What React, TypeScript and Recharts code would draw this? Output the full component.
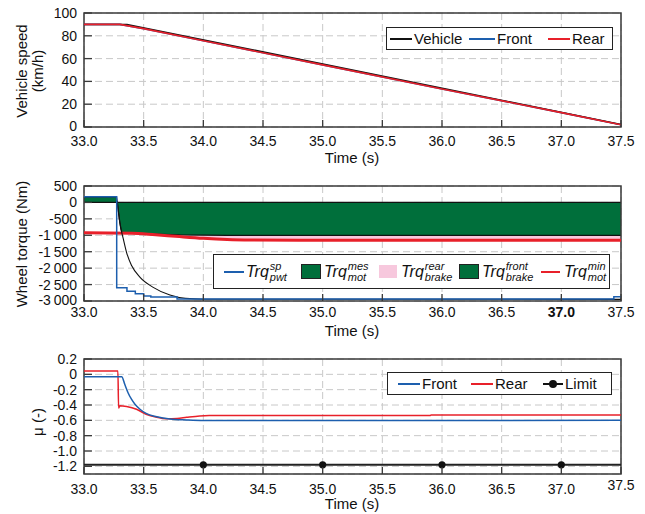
import React from "react";
import {
  ComposedChart,
  Line,
  Area,
  XAxis,
  YAxis,
  CartesianGrid,
  ReferenceArea,
} from "recharts";

const FONT = "'Liberation Sans', Arial, Helvetica, sans-serif";
const AXIS = "#3a3a3a";
const GRID = "#c8c8c8";
const BLUE = "#1d5fae";
const RED = "#e8202a";
const GREEN = "#006f3b";
const PINK = "#f7c8dd";
const TICK_FONT = 14;

// shared time axis
const timeTicks = [33, 33.5, 34, 34.5, 35, 35.5, 36, 36.5, 37, 37.5];
const speedTicks = [0, 20, 40, 60, 80, 100];
const torqueTicks = [500, 0, -500, -1000, -1500, -2000, -2500, -3000];
const muTicks = [0.2, 0, -0.2, -0.4, -0.6, -0.8, -1.0, -1.2];

// vehicle / wheel speeds (km/h)
const vehicleSpeed = [
  { t: 33.0, v: 90 },
  { t: 33.36, v: 90 },
  { t: 37.5, v: 2.2 },
];
const frontSpeed = [
  { t: 33.0, v: 90 },
  { t: 33.3, v: 90 },
  { t: 33.5, v: 86.3 },
  { t: 34.0, v: 75.6 },
  { t: 35.0, v: 54.5 },
  { t: 36.0, v: 33.4 },
  { t: 37.0, v: 12.6 },
  { t: 37.5, v: 2 },
];
const rearSpeed = [
  { t: 33.0, v: 90 },
  { t: 33.3, v: 90 },
  { t: 33.5, v: 86.3 },
  { t: 34.0, v: 75.6 },
  { t: 35.0, v: 54.5 },
  { t: 36.0, v: 33.4 },
  { t: 37.0, v: 12.6 },
  { t: 37.5, v: 2 },
];

// wheel torques (Nm)
const pwtSetpoint = [
  { t: 33.0, v: 170 },
  { t: 33.274, v: -2600 },
  { t: 33.36, v: -2700 },
  { t: 33.43, v: -2780 },
  { t: 33.5, v: -2850 },
  { t: 33.56, v: -2880 },
  { t: 33.78, v: -2940 },
  { t: 37.44, v: -2870 },
  { t: 37.5, v: -2870 },
];
const motorMes = [
  { t: 33.0, v: [0, 170] },
  { t: 33.272, v: [0, 170] },
  { t: 33.279, v: [0, 0] },
  { t: 33.3, v: [-600, 0] },
  { t: 33.31, v: [-820, 0] },
  { t: 33.32, v: [-930, 0] },
  { t: 33.5, v: [-955, 0] },
  { t: 33.8, v: [-990, 0] },
  { t: 34.2, v: [-1000, 0] },
  { t: 37.5, v: [-1000, 0] },
];
const rearBrake = [
  { t: 33.35, v: [-935, -930] },
  { t: 33.6, v: [-980, -960] },
  { t: 34.0, v: [-1085, -995] },
  { t: 34.4, v: [-1135, -1000] },
  { t: 37.5, v: [-1135, -1000] },
];
const motorTrq = [
  { t: 33.279, v: 0 },
  { t: 33.3, v: -616 },
  { t: 33.33, v: -1120 },
  { t: 33.357, v: -1525 },
  { t: 33.4, v: -1930 },
  { t: 33.47, v: -2280 },
  { t: 33.58, v: -2585 },
  { t: 33.72, v: -2820 },
  { t: 33.85, v: -2920 },
  { t: 34.0, v: -2945 },
  { t: 37.5, v: -2950 },
];
const motorMin = [
  { t: 33.0, v: -925 },
  { t: 33.4, v: -935 },
  { t: 33.6, v: -985 },
  { t: 33.8, v: -1040 },
  { t: 34.0, v: -1090 },
  { t: 34.2, v: -1125 },
  { t: 34.4, v: -1140 },
  { t: 34.8, v: -1148 },
  { t: 37.5, v: -1148 },
];

// friction utilisation (-)
const muFront = [
  { t: 33.0, v: -0.03 },
  { t: 33.316, v: -0.03 },
  { t: 33.343, v: -0.136 },
  { t: 33.37, v: -0.243 },
  { t: 33.399, v: -0.328 },
  { t: 33.427, v: -0.39 },
  { t: 33.469, v: -0.455 },
  { t: 33.52, v: -0.51 },
  { t: 33.61, v: -0.553 },
  { t: 33.72, v: -0.583 },
  { t: 33.86, v: -0.596 },
  { t: 34.0, v: -0.603 },
  { t: 37.5, v: -0.6 },
];
const muRear = [
  { t: 33.0, v: 0.045 },
  { t: 33.284, v: 0.045 },
  { t: 33.29, v: -0.44 },
  { t: 33.3, v: -0.41 },
  { t: 33.357, v: -0.42 },
  { t: 33.44, v: -0.455 },
  { t: 33.52, v: -0.52 },
  { t: 33.61, v: -0.56 },
  { t: 33.69, v: -0.58 },
  { t: 33.78, v: -0.575 },
  { t: 33.86, v: -0.56 },
  { t: 33.97, v: -0.542 },
  { t: 34.05, v: -0.536 },
  { t: 35.9, v: -0.536 },
  { t: 35.91, v: -0.532 },
  { t: 37.5, v: -0.532 },
];
const muLimit = [
  { t: 33.0, v: -1.18 },
  { t: 34.0, v: -1.18 },
  { t: 35.0, v: -1.18 },
  { t: 36.0, v: -1.18 },
  { t: 37.0, v: -1.18 },
  { t: 37.5, v: -1.18 },
];

const fmtTime = (v: number) => v.toFixed(1);
const fmtSpeed = (v: number) => String(v);
const fmtTorque = (v: number) => {
  const a = Math.abs(v);
  const s =
    a >= 1000
      ? `${Math.floor(a / 1000)}\u2009${String(a % 1000).padStart(3, "0")}`
      : String(a);
  return v < 0 ? `-${s}` : s;
};
const fmtMu = (v: number) => (v === 0 ? "0" : v.toFixed(1));

// ticks point into the plot, labels sit outside
const XTick = (props: any) => {
  const { x, y, payload, gap, bold, lift = 0 } = props;
  const base = y - gap;
  const last = payload.value === timeTicks[timeTicks.length - 1];
  return (
    <g>
      <line x1={x} x2={x} y1={base} y2={base - 7} stroke={AXIS} strokeWidth={1.3} />
      <text
        x={x}
        y={y + 5 - (last ? lift : 0)}
        textAnchor="middle"
        fontSize={TICK_FONT}
        fontFamily={FONT}
        fontWeight={bold === payload.value ? 700 : 400}
        fill="#111"
      >
        {fmtTime(payload.value)}
      </text>
    </g>
  );
};

// the lowest label can be pulled up a little
const YTick = (props: any) => {
  const { x, y, payload, fmt, bottom, nudge = 0 } = props;
  const dy = payload.value === bottom ? 5 - nudge : 5;
  return (
    <g>
      <line x1={x + 7} x2={x + 15} y1={y} y2={y} stroke={AXIS} strokeWidth={1.3} />
      <text
        x={x}
        y={y + dy}
        textAnchor="end"
        fontSize={TICK_FONT}
        fontFamily={FONT}
        fill="#111"
      >
        {fmt(payload.value)}
      </text>
    </g>
  );
};

const LimitDot = (props: any) => {
  const { cx, cy, index } = props;
  if (index === 0 || index === muLimit.length - 1) return <g key={`d${index}`} />;
  return <circle key={`d${index}`} cx={cx} cy={cy} r={3.6} fill="#111" />;
};

const LineSample = ({ color, width = 22, thick = 2 }: any) => (
  <span
    style={{
      display: "inline-block",
      width,
      height: thick,
      background: color,
      verticalAlign: "middle",
    }}
  />
);

const BoxSample = ({ color, border }: any) => (
  <span
    style={{
      display: "inline-block",
      width: 18,
      height: 13,
      background: color,
      border: border ? "1.5px solid #222" : "none",
    }}
  />
);

const Trq = ({ sup, sub }: { sup: string; sub: string }) => (
  <span style={{ display: "inline-flex", alignItems: "center", fontStyle: "italic" }}>
    <span style={{ fontSize: 16 }}>Trq</span>
    <span
      style={{
        display: "inline-flex",
        flexDirection: "column",
        fontSize: 11,
        lineHeight: "11px",
        marginLeft: 1,
        marginTop: 1,
      }}
    >
      <span>{sup}</span>
      <span>{sub}</span>
    </span>
  </span>
);

const legendBox = (left: number, top: number, width: number, height: number): React.CSSProperties => ({
  position: "absolute",
  left,
  top,
  width,
  height,
  boxSizing: "border-box",
  border: "1.5px solid #222",
  background: "#fff",
  fontSize: 15,
});

const item = (left: number): React.CSSProperties => ({
  position: "absolute",
  left,
  top: 0,
  bottom: 0,
  display: "flex",
  alignItems: "center",
  gap: 2,
  whiteSpace: "nowrap",
});

const VTitle = ({ x, y, children }: any) => (
  <div
    style={{
      position: "absolute",
      left: x,
      top: y,
      transform: "translate(-50%, -50%) rotate(-90deg)",
      whiteSpace: "nowrap",
      fontSize: 15,
    }}
  >
    {children}
  </div>
);

const HTitle = ({ x, y, children }: any) => (
  <div
    style={{
      position: "absolute",
      left: x,
      top: y,
      transform: "translate(-50%, -50%)",
      whiteSpace: "nowrap",
      fontSize: 15,
    }}
  >
    {children}
  </div>
);

const W = 645;
// axes are 1px wide/tall so they still render; margins compensate
const PLOT_LEFT = 83;
const PLOT_RIGHT = 24;

export default function App() {
  return (
    <div
      style={{
        position: "relative",
        width: W,
        height: 514,
        background: "#fff",
        fontFamily: FONT,
        color: "#111",
      }}
    >
      <style>{"body{margin:0}"}</style>

      {/* speed */}
      <div style={{ position: "absolute", left: 0, top: 0 }}>
        <ComposedChart
          width={W}
          height={170}
          margin={{ top: 13, right: PLOT_RIGHT, bottom: 42, left: PLOT_LEFT }}
        >
          <CartesianGrid stroke={GRID} strokeDasharray="7 4" />
          <XAxis
            dataKey="t"
            type="number"
            domain={[33, 37.5]}
            ticks={timeTicks}
            interval={0}
            height={1}
            axisLine={false}
            tickLine={false}
            tickSize={0}
            tickMargin={14}
            tick={<XTick gap={14} />}
            allowDataOverflow
          />
          <YAxis
            type="number"
            domain={[0, 100]}
            ticks={speedTicks}
            interval={0}
            width={1}
            axisLine={false}
            tickLine={false}
            tickSize={0}
            tickMargin={7}
            tick={<YTick fmt={fmtSpeed} bottom={0} nudge={1.5} />}
            allowDataOverflow
          />
          <Line data={frontSpeed} dataKey="v" stroke={BLUE} strokeWidth={1.6} dot={false} isAnimationActive={false} />
          <Line data={vehicleSpeed} dataKey="v" stroke="#111" strokeWidth={1.5} dot={false} isAnimationActive={false} />
          <Line data={rearSpeed} dataKey="v" stroke={RED} strokeWidth={1.6} dot={false} isAnimationActive={false} />
          <ReferenceArea x1={33} x2={37.5} y1={0} y2={100} fill="none" stroke={AXIS} strokeWidth={1.5} />
        </ComposedChart>
      </div>

      {/* wheel torque */}
      <div style={{ position: "absolute", left: 0, top: 170 }}>
        <ComposedChart
          width={W}
          height={170}
          margin={{ top: 16, right: PLOT_RIGHT, bottom: 38, left: PLOT_LEFT }}
        >
          <CartesianGrid stroke={GRID} strokeDasharray="7 4" />
          <XAxis
            dataKey="t"
            type="number"
            domain={[33, 37.5]}
            ticks={timeTicks}
            interval={0}
            height={1}
            axisLine={false}
            tickLine={false}
            tickSize={0}
            tickMargin={11}
            tick={<XTick gap={11} bold={37} />}
            allowDataOverflow
          />
          <YAxis
            type="number"
            domain={[-3000, 500]}
            ticks={torqueTicks}
            interval={0}
            width={1}
            axisLine={false}
            tickLine={false}
            tickSize={0}
            tickMargin={7}
            tick={<YTick fmt={fmtTorque} bottom={-3000} nudge={1} />}
            allowDataOverflow
          />
          <Area data={rearBrake} dataKey="v" fill={PINK} fillOpacity={1} stroke="none" isAnimationActive={false} />
          <Area data={motorMes} dataKey="v" fill={GREEN} fillOpacity={1} stroke="#111" strokeWidth={1.2} isAnimationActive={false} />
          <Line data={motorMin} dataKey="v" type="monotone" stroke={RED} strokeWidth={3} dot={false} isAnimationActive={false} />
          <Line data={motorTrq} dataKey="v" type="monotone" stroke="#111" strokeWidth={1.1} dot={false} isAnimationActive={false} />
          <Line data={pwtSetpoint} dataKey="v" type="stepAfter" stroke={BLUE} strokeWidth={1.5} dot={false} isAnimationActive={false} />
          <ReferenceArea x1={33} x2={37.5} y1={-3000} y2={500} fill="none" stroke={AXIS} strokeWidth={1.5} />
        </ComposedChart>
      </div>

      {/* friction */}
      <div style={{ position: "absolute", left: 0, top: 340 }}>
        <ComposedChart
          width={W}
          height={174}
          margin={{ top: 19, right: PLOT_RIGHT, bottom: 39, left: PLOT_LEFT }}
        >
          <CartesianGrid stroke={GRID} strokeDasharray="7 4" />
          <XAxis
            dataKey="t"
            type="number"
            domain={[33, 37.5]}
            ticks={timeTicks}
            interval={0}
            height={1}
            axisLine={false}
            tickLine={false}
            tickSize={0}
            tickMargin={15}
            tick={<XTick gap={15} lift={4} />}
            allowDataOverflow
          />
          <YAxis
            type="number"
            domain={[-1.3, 0.2]}
            ticks={muTicks}
            interval={0}
            width={1}
            axisLine={false}
            tickLine={false}
            tickSize={0}
            tickMargin={7}
            tick={<YTick fmt={fmtMu} />}
            allowDataOverflow
          />
          <Line data={muLimit} dataKey="v" stroke="#222" strokeWidth={2} dot={<LimitDot />} isAnimationActive={false} />
          <Line data={muRear} dataKey="v" type="monotone" stroke={RED} strokeWidth={1.5} dot={false} isAnimationActive={false} />
          <Line data={muFront} dataKey="v" type="monotone" stroke={BLUE} strokeWidth={1.5} dot={false} isAnimationActive={false} />
          <ReferenceArea x1={33} x2={37.5} y1={-1.3} y2={0.2} fill="none" stroke={AXIS} strokeWidth={1.5} />
        </ComposedChart>
      </div>

      {/* axis titles */}
      <VTitle x={21} y={71}>Vehicle speed</VTitle>
      <VTitle x={37} y={71}>(km/h)</VTitle>
      <VTitle x={21} y={244}>Wheel torque (Nm)</VTitle>
      <VTitle x={37} y={422}>μ (-)</VTitle>
      <HTitle x={352} y={157}>Time (s)</HTitle>
      <HTitle x={352} y={330}>Time (s)</HTitle>
      <HTitle x={352} y={503}>Time (s)</HTitle>

      {/* legends */}
      <div style={legendBox(386, 27, 227, 23)}>
        <span style={item(3)}>
          <LineSample color="#111" />Vehicle
        </span>
        <span style={item(82)}>
          <LineSample color={BLUE} width={26} />Front
        </span>
        <span style={item(161)}>
          <LineSample color={RED} />Rear
        </span>
      </div>

      <div style={legendBox(213, 254, 397, 35)}>
        <span style={item(10)}>
          <LineSample color={BLUE} width={20} />
          <Trq sup="sp" sub="pwt" />
        </span>
        <span style={{ ...item(87), gap: 3 }}>
          <BoxSample color={GREEN} border />
          <Trq sup="mes" sub="mot" />
        </span>
        <span style={{ ...item(165), gap: 4 }}>
          <BoxSample color={PINK} />
          <Trq sup="rear" sub="brake" />
        </span>
        <span style={{ ...item(245), gap: 3 }}>
          <BoxSample color={GREEN} border />
          <Trq sup="front" sub="brake" />
        </span>
        <span style={{ ...item(327), gap: 4 }}>
          <LineSample color={RED} width={19} />
          <Trq sup="min" sub="mot" />
        </span>
      </div>

      <div style={legendBox(387, 372, 225, 23)}>
        <span style={item(10)}>
          <LineSample color={BLUE} />Front
        </span>
        <span style={item(83)}>
          <LineSample color={RED} />Rear
        </span>
        <span style={item(155)}>
          <span style={{ position: "relative", display: "inline-block", width: 20, height: 8 }}>
            <span style={{ position: "absolute", left: 0, right: 0, top: 3, height: 2, background: "#111" }} />
            <span style={{ position: "absolute", left: 6, top: 0, width: 8, height: 8, borderRadius: 4, background: "#111" }} />
          </span>
          Limit
        </span>
      </div>
    </div>
  );
}
